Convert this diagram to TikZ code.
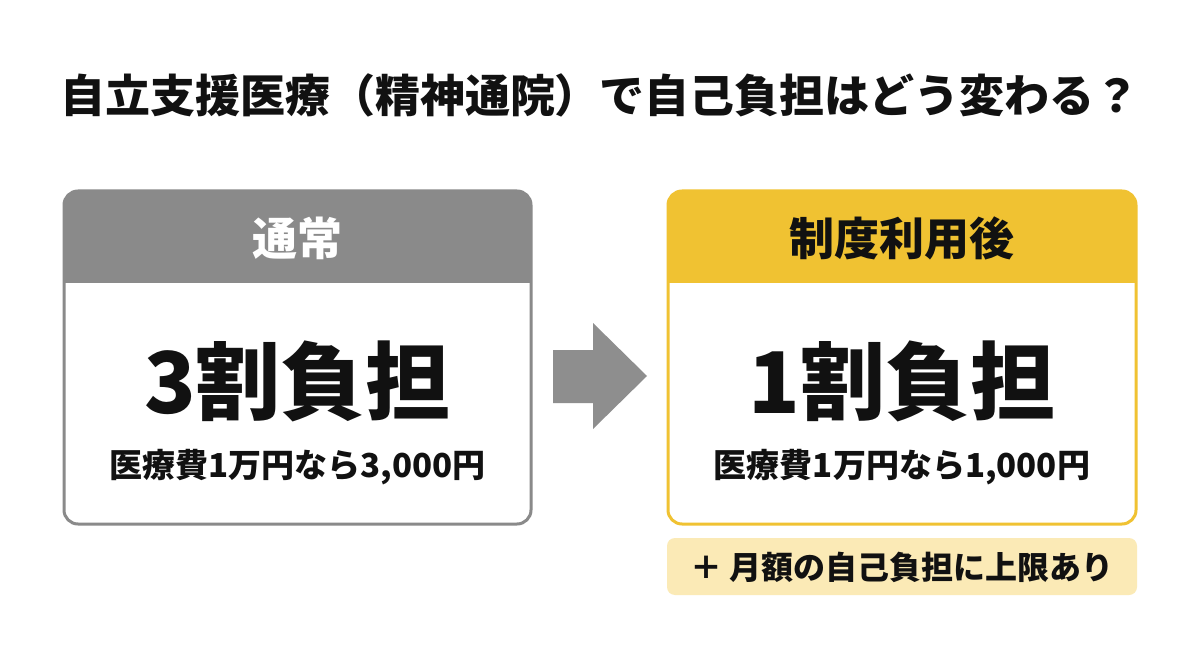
\documentclass[tikz,border=0pt]{standalone}
\usepackage{fontspec}
\setmainfont{Noto Sans CJK JP}
\definecolor{hgray}{HTML}{8A8A8A}
\definecolor{hyellow}{HTML}{F0C232}
\definecolor{nyellow}{HTML}{FBEAB6}
\definecolor{agray}{HTML}{8E8E8E}
\definecolor{ink}{HTML}{111111}
\tikzset{
  titletext/.style={font=\fontsize{45}{54}\selectfont\bfseries, text=ink, inner sep=0},
  headtext/.style={font=\fontsize{45}{54}\selectfont\bfseries, inner sep=0},
  bigtext/.style={font=\fontsize{85}{100}\selectfont\bfseries, text=ink, inner sep=0},
  subtext/.style={font=\fontsize{33}{40}\selectfont\bfseries, text=ink, inner sep=0},
  notetext/.style={font=\fontsize{32}{38}\selectfont\bfseries, text=ink, inner sep=0},
}
\begin{document}
\begin{tikzpicture}[x=1pt,y=-1pt]
\useasboundingbox[fill=white] (0,0) rectangle (1200,655);
% title
\node[titletext] (title) at (600,95) {自立支援医療（精神通院）で自己負担はどう変わる？};
% left box
\fill[white, rounded corners=14pt] (64,191) rectangle (531,524);
\begin{scope}
  \clip[rounded corners=14pt] (64,191) rectangle (531,524);
  \fill[hgray] (64,191) rectangle (531,283);
\end{scope}
\draw[hgray, line width=3pt, rounded corners=14pt] (64,191) rectangle (531,524);
\node[headtext, text=white] (lhead) at (297.5,238) {通常};
\node[bigtext] (lbig) at (297.5,381) {3割負担};
\node[subtext] (lsub) at (297.5,467) {医療費1万円なら3,000円};
% right box
\fill[white, rounded corners=14pt] (668,191) rectangle (1136,524);
\begin{scope}
  \clip[rounded corners=14pt] (668,191) rectangle (1136,524);
  \fill[hyellow] (668,191) rectangle (1136,283);
\end{scope}
\draw[hyellow, line width=3pt, rounded corners=14pt] (668,191) rectangle (1136,524);
\node[headtext, text=ink] (rhead) at (902,238) {制度利用後};
\node[bigtext] (rbig) at (902,381) {1割負担};
\node[subtext] (rsub) at (902,467) {医療費1万円なら1,000円};
% arrow
\fill[agray] (553,350) -- (593,350) -- (593,323) -- (647,376) -- (593,429) -- (593,403) -- (553,403) -- cycle;
% note
\fill[nyellow, rounded corners=8pt] (667,538) rectangle (1137,595);
\node[notetext] (note) at (902,567) {＋ 月額の自己負担に上限あり};
\end{tikzpicture}
\end{document}
